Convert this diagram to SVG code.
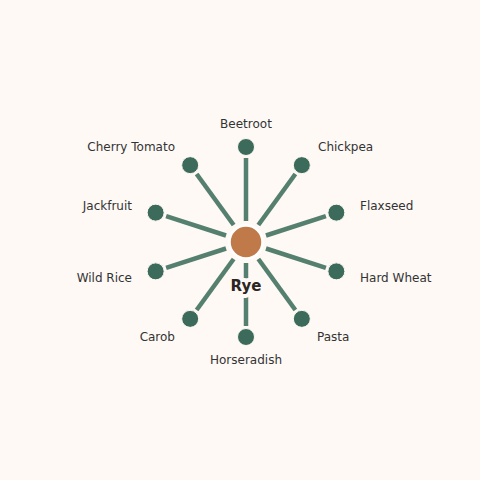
<svg xmlns="http://www.w3.org/2000/svg" width="480" height="480" viewBox="0 0 480 480">
<style>
.bg{fill:#fef9f5}
.edge{stroke:#557f6f;stroke-width:4.5;stroke-linecap:butt}
.leaf{fill:#3d6b5b;stroke:#fef9f5;stroke-width:1}
.hub{fill:#c07a4a;stroke:#ffffff;stroke-width:2.5}
.lbl{font-family:"DejaVu Sans",sans-serif;font-size:12px;fill:#333333}
.hublbl{font-family:"DejaVu Sans",sans-serif;font-size:15px;font-weight:bold;fill:#2b2622;stroke:#fef9f5;stroke-width:8;paint-order:stroke;stroke-linejoin:round}
</style>
<rect class="bg" x="0" y="0" width="480" height="480"/>
<g id="connectors">
<line class="edge" x1="246" y1="221" x2="246" y2="158"/>
<line class="edge" x1="258.34" y1="225.01" x2="295.38" y2="174.04"/>
<line class="edge" x1="265.97" y1="235.51" x2="325.89" y2="216.04"/>
<line class="edge" x1="265.97" y1="248.49" x2="325.89" y2="267.96"/>
<line class="edge" x1="258.34" y1="258.99" x2="295.38" y2="309.96"/>
<line class="edge" x1="246" y1="263" x2="246" y2="326"/>
<line class="edge" x1="233.66" y1="258.99" x2="196.62" y2="309.96"/>
<line class="edge" x1="226.03" y1="248.49" x2="166.11" y2="267.96"/>
<line class="edge" x1="226.03" y1="235.51" x2="166.11" y2="216.04"/>
<line class="edge" x1="233.66" y1="225.01" x2="196.62" y2="174.04"/>
</g>
<g id="node-beetroot"><circle class="leaf" cx="246" cy="147" r="8.5"/><text class="lbl" x="246" y="128" text-anchor="middle">Beetroot</text></g>
<g id="node-chickpea"><circle class="leaf" cx="301.84" cy="165.14" r="8.5"/><text class="lbl" x="318" y="151">Chickpea</text></g>
<g id="node-flaxseed"><circle class="leaf" cx="336.35" cy="212.64" r="8.5"/><text class="lbl" x="360" y="210">Flaxseed</text></g>
<g id="node-hardwheat"><circle class="leaf" cx="336.35" cy="271.36" r="8.5"/><text class="lbl" x="360" y="282">Hard Wheat</text></g>
<g id="node-pasta"><circle class="leaf" cx="301.84" cy="318.86" r="8.5"/><text class="lbl" x="317" y="341">Pasta</text></g>
<g id="node-horseradish"><circle class="leaf" cx="246" cy="337" r="8.5"/><text class="lbl" x="246" y="363.5" text-anchor="middle">Horseradish</text></g>
<g id="node-carob"><circle class="leaf" cx="190.16" cy="318.86" r="8.5"/><text class="lbl" x="175" y="341" text-anchor="end">Carob</text></g>
<g id="node-wildrice"><circle class="leaf" cx="155.65" cy="271.36" r="8.5"/><text class="lbl" x="132" y="282" text-anchor="end">Wild Rice</text></g>
<g id="node-jackfruit"><circle class="leaf" cx="155.65" cy="212.64" r="8.5"/><text class="lbl" x="132" y="210" text-anchor="end">Jackfruit</text></g>
<g id="node-cherrytomato"><circle class="leaf" cx="190.16" cy="165.14" r="8.5"/><text class="lbl" x="175" y="151" text-anchor="end">Cherry Tomato</text></g>
<g id="node-rye"><circle class="hub" cx="246" cy="242" r="16.5"/><text class="hublbl" x="246" y="291" text-anchor="middle">Rye</text></g>
</svg>
